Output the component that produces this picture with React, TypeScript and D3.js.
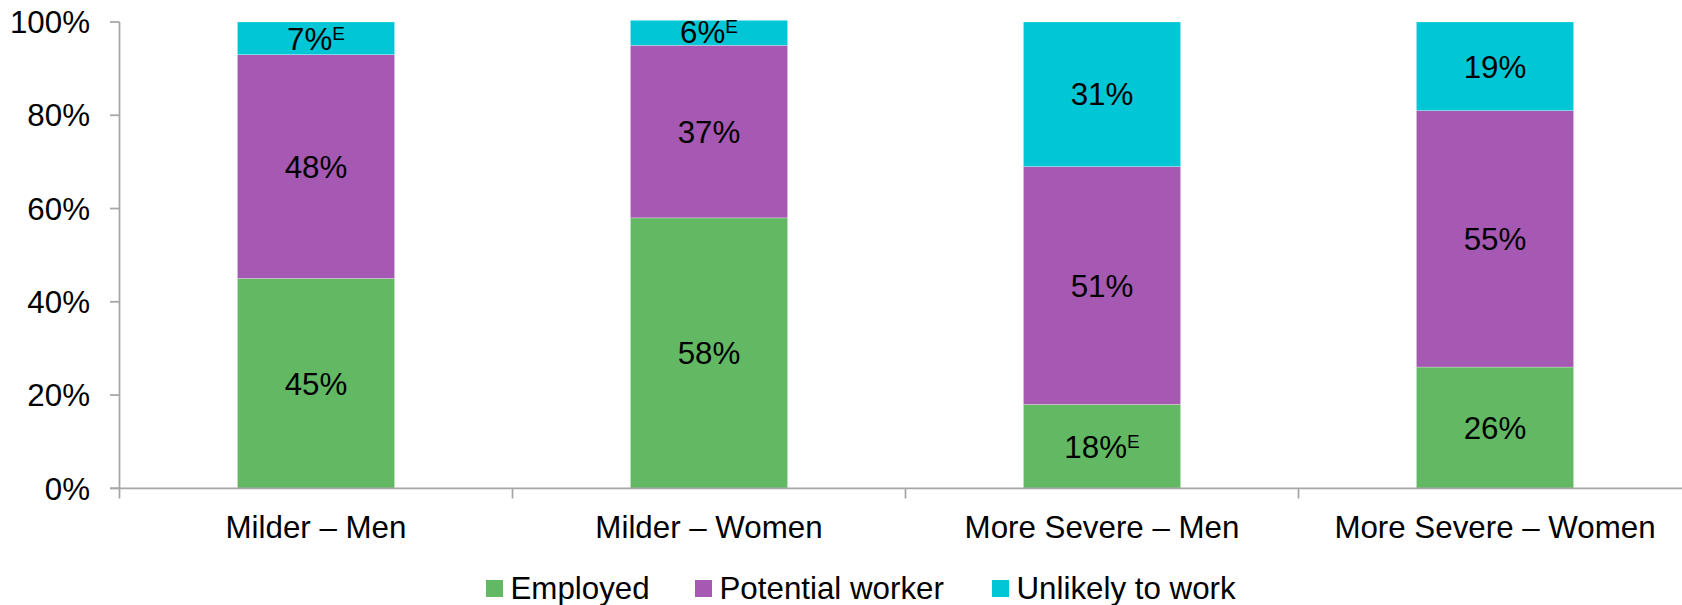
import React from "react";
import * as d3 from "d3";

const categories = ["Milder – Men", "Milder – Women", "More Severe – Men", "More Severe – Women"];
const seriesNames = ["Employed", "Potential worker", "Unlikely to work"];
const employed = [45, 58, 18, 26];
const potentialWorker = [48, 37, 51, 55];
const unlikelyToWork = [7, 6, 31, 19];
// "E" flags: use with caution (high sampling variability)
const employedFlag = [false, false, true, false];
const potentialFlag = [false, false, false, false];
const unlikelyFlag = [true, true, false, false];
const yTicks = [0, 20, 40, 60, 80, 100];
const yTickLabels = ["0%", "20%", "40%", "60%", "80%", "100%"];

const colors = ["#63B963", "#A659B2", "#00C6D5"];

const W = 1682;
const H = 605;
const FONT = "'Liberation Sans', Arial, Helvetica, sans-serif";
const FS = 31.3;
const AXIS_COLOR = "#A6A6A6";

export default function App() {
  const x0 = 119.5;
  const step = 393;
  const x = d3
    .scaleBand<string>()
    .domain(categories)
    .range([x0, x0 + step * categories.length])
    .paddingInner(0.6)
    .paddingOuter(0.3);
  const y = d3.scaleLinear().domain([0, 100]).range([488.3, 22]);

  const rows = categories.map((c, i) => ({
    cat: c,
    s0: employed[i],
    s1: potentialWorker[i],
    s2: unlikelyToWork[i],
  }));
  const flags = [employedFlag, potentialFlag, unlikelyFlag];
  const stack = d3.stack<any>().keys(["s0", "s1", "s2"]);
  const layers = stack(rows);

  const legendX = [486, 695, 992];

  return (
    <svg
      width={W}
      height={H}
      style={{ position: "absolute", left: 0, top: 0, display: "block", background: "#fff" }}
      fontFamily={FONT}
    >
      <defs>
        <clipPath id="plotClip">
          <rect x={x0} y={20.5} width={W - x0} height={488.3 - 20.5} />
        </clipPath>
      </defs>

      {/* bars */}
      <g clipPath="url(#plotClip)">
        {layers.map((layer, si) =>
          layer.map((d, ci) => {
            const bx = x(categories[ci])!;
            const top = y(d[1]);
            const bot = y(d[0]);
            return (
              <rect
                key={`${si}-${ci}`}
                x={bx}
                y={top}
                width={x.bandwidth()}
                height={bot - top}
                fill={colors[si]}
                stroke="#ffffff"
                strokeOpacity={0.35}
                strokeWidth={0.75}
              />
            );
          })
        )}
      </g>

      {/* data labels */}
      {layers.map((layer, si) =>
        layer.map((d, ci) => {
          const cx = x(categories[ci])! + x.bandwidth() / 2;
          const cy = (y(d[0]) + y(d[1])) / 2;
          const v = d[1] - d[0];
          return (
            <text
              key={`l-${si}-${ci}`}
              x={cx}
              y={cy + 0.358 * FS}
              textAnchor="middle"
              fontSize={FS}
              fill="#000"
            >
              <tspan>{d3.format(".0f")(v)}%</tspan>
              {flags[si][ci] ? (
                <tspan fontSize={19} dy={-9.5}>
                  E
                </tspan>
              ) : null}
            </text>
          );
        })
      )}

      {/* y axis */}
      <line x1={x0} x2={x0} y1={y(100)} y2={498.5} stroke={AXIS_COLOR} strokeWidth={1.75} />
      {yTicks.map((t, i) => (
        <g key={`yt-${t}`}>
          <line x1={110} x2={x0} y1={y(t)} y2={y(t)} stroke={AXIS_COLOR} strokeWidth={1.75} />
          <text x={90} y={y(t) + 0.358 * FS} textAnchor="end" fontSize={FS} fill="#000">
            {yTickLabels[i]}
          </text>
        </g>
      ))}

      {/* x axis */}
      <line x1={110} x2={W} y1={y(0)} y2={y(0)} stroke={AXIS_COLOR} strokeWidth={1.75} />
      {categories.map((c, i) => {
        const bx = x0 + step * (i + 1);
        return (
          <line key={`xt-${i}`} x1={bx} x2={bx} y1={y(0)} y2={498.5} stroke={AXIS_COLOR} strokeWidth={1.75} />
        );
      })}
      {categories.map((c) => (
        <text
          key={`xl-${c}`}
          x={x(c)! + x.bandwidth() / 2}
          y={538.3}
          textAnchor="middle"
          fontSize={FS}
          fill="#000"
        >
          {c}
        </text>
      ))}

      {/* legend */}
      {seriesNames.map((n, i) => (
        <g key={`lg-${n}`}>
          <rect x={legendX[i]} y={580} width={17} height={17} fill={colors[i]} />
          <text x={legendX[i] + 24.5} y={599.3} fontSize={FS} fill="#000">
            {n}
          </text>
        </g>
      ))}
    </svg>
  );
}
